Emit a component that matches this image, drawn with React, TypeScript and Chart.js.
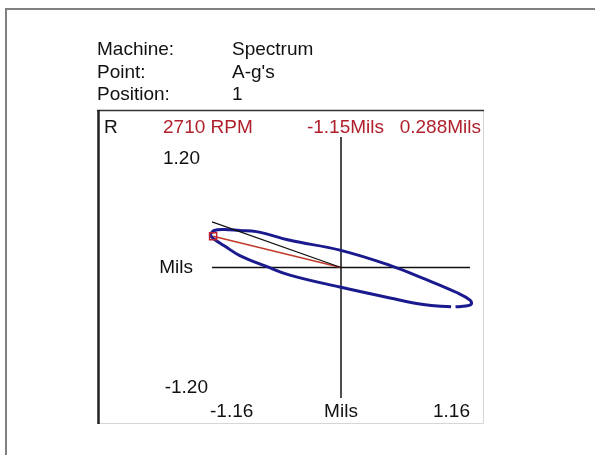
import React, { useEffect, useRef } from 'react';
import { Chart, registerables } from 'chart.js';

Chart.register(...registerables);

// Orbit trace (Mils) (null = small break in the trace)
const orbitX = [-1.18, -1.14, -1.05, -0.91, -0.76, -0.46, -0.01, 0.44, 0.74, 1.04, 1.16, 1.17, 1.06, 1.03, 1.01, 0.99, 0.74, 0.44, -0.01, -0.46, -0.67, -0.91, -1.05, -1.14, -1.18];
const orbitY = [0.30, 0.34, 0.35, 0.34, 0.33, 0.25, 0.16, 0.02, -0.10, -0.23, -0.30, -0.34, -0.36, -0.362, null, -0.362, -0.34, -0.28, -0.18, -0.07, 0.01, 0.11, 0.20, 0.26, 0.30];

// Current point (red) and reference line (black)
const markerX = [-1.15, 0];
const markerY = [0.288, 0];
const refLineX = [-1.16, 0];
const refLineY = [0.42, 0];

// Axis ranges and labels
const xRange = [-1.16, 1.16];
const yRange = [-1.2, 1.2];
const xTickLabels = ['-1.16', 'Mils', '1.16'];
const yTickLabels = ['1.20', 'Mils', '-1.20'];

const headerLabels = ['Machine:', 'Point:', 'Position:'];
const headerValues = ['Spectrum', 'A-g\'s', '1'];
const rpmText = '2710 RPM';
const readoutX = '-1.15Mils';
const readoutY = '0.288Mils';
const cornerLabel = 'R';

const toPts = (xs: number[], ys: (number | null)[]) => xs.map((x, i) => ({ x, y: ys[i] }));

const FONT = '19px "Liberation Sans", Arial, sans-serif';
const RED = '#b0202c';

const decorPlugin = {
  id: 'decor',
  beforeDraw(chart: any) {
    const ctx = chart.ctx;
    ctx.save();
    ctx.fillStyle = '#ffffff';
    ctx.fillRect(0, 0, chart.width, chart.height);
    ctx.restore();
  },
  afterDraw(chart: any) {
    const ctx = chart.ctx;
    ctx.save();
    // outer frame
    ctx.strokeStyle = '#808080';
    ctx.lineWidth = 2;
    ctx.beginPath();
    ctx.moveTo(6, 455);
    ctx.lineTo(6, 9);
    ctx.lineTo(595, 9);
    ctx.stroke();

    // inner box
    ctx.strokeStyle = '#d6d6d6';
    ctx.lineWidth = 1;
    ctx.beginPath();
    ctx.moveTo(97, 423.5);
    ctx.lineTo(483.5, 423.5);
    ctx.lineTo(483.5, 110);
    ctx.stroke();
    ctx.strokeStyle = '#333333';
    ctx.lineWidth = 1.5;
    ctx.beginPath();
    ctx.moveTo(97, 110.5);
    ctx.lineTo(484, 110.5);
    ctx.stroke();
    ctx.strokeStyle = '#222222';
    ctx.lineWidth = 2.5;
    ctx.beginPath();
    ctx.moveTo(98.5, 110);
    ctx.lineTo(98.5, 424);
    ctx.stroke();

    ctx.font = FONT;
    ctx.textBaseline = 'middle';
    ctx.fillStyle = '#111111';
    const rows = [50, 72.5, 95];
    headerLabels.forEach((t, i) => {
      ctx.textAlign = 'left';
      ctx.fillText(t, 97, rows[i]);
      ctx.fillText(headerValues[i], 232, rows[i]);
    });

    ctx.textAlign = 'left';
    ctx.fillText(cornerLabel, 104, 128);
    ctx.fillStyle = RED;
    ctx.fillText(rpmText, 163, 128);
    ctx.textAlign = 'right';
    ctx.fillText(readoutY, 481, 128);
    ctx.fillText(readoutX, 384, 128);

    const xs = chart.scales.x;
    const ys = chart.scales.y;
    ctx.fillStyle = '#111111';
    // y labels
    ctx.textAlign = 'right';
    ctx.fillText(yTickLabels[0], 200, 159);
    ctx.fillText(yTickLabels[1], 193, ys.getPixelForValue(0));
    ctx.fillText(yTickLabels[2], 208, 388);
    // x labels
    ctx.textAlign = 'left';
    ctx.fillText(xTickLabels[0], 210, 412);
    ctx.textAlign = 'center';
    ctx.fillText(xTickLabels[1], xs.getPixelForValue(0), 412);
    ctx.textAlign = 'right';
    ctx.fillText(xTickLabels[2], xs.getPixelForValue(xRange[1]), 412);
    ctx.restore();
  },
};

export default function App() {
  const ref = useRef<HTMLCanvasElement | null>(null);
  useEffect(() => {
    if (!ref.current) return;
    const chart = new Chart(ref.current, {
      type: 'scatter',
      data: {
        datasets: [
          {
            label: 'ref',
            data: toPts(refLineX, refLineY),
            showLine: true,
            clip: false,
            borderColor: '#111111',
            borderWidth: 1.2,
            pointRadius: 0,
            order: 0,
          },
          {
            label: 'point',
            data: toPts(markerX, markerY),
            showLine: true,
            clip: false,
            borderColor: '#c0392b',
            borderWidth: 1.5,
            pointStyle: 'rect',
            pointRadius: [5, 0],
            pointBorderColor: '#c02030',
            pointBackgroundColor: 'rgba(255,255,255,0)',
            pointBorderWidth: 1.5,
            order: 0,
          },
          {
            label: 'orbit',
            data: toPts(orbitX, orbitY),
            showLine: true,
            clip: false,
            spanGaps: false,
            borderColor: '#1a1a8e',
            borderWidth: 3,
            tension: 0.4,
            pointRadius: 0,
            order: 1,
          },
          {
            label: 'hAxis',
            data: toPts(xRange, [0, 0]),
            showLine: true,
            borderColor: '#111111',
            borderWidth: 1.5,
            pointRadius: 0,
            order: 3,
          },
          {
            label: 'vAxis',
            data: toPts([0, 0], yRange),
            showLine: true,
            borderColor: '#111111',
            borderWidth: 1.5,
            pointRadius: 0,
            order: 3,
          },
        ],
      },
      options: {
        animation: false,
        responsive: false,
        devicePixelRatio: 1,
        layout: { padding: { left: 212, top: 137, right: 125, bottom: 57 } },
        plugins: { legend: { display: false }, tooltip: { enabled: false } },
        scales: {
          x: { type: 'linear', min: xRange[0], max: xRange[1], display: false },
          y: { type: 'linear', min: yRange[0], max: yRange[1], display: false },
        },
      },
      plugins: [decorPlugin],
    });
    return () => chart.destroy();
  }, []);
  return (
    <div style={{ position: 'fixed', left: 0, top: 0, width: 595, height: 455, background: '#fff' }}>
      <canvas ref={ref} width={595} height={455} style={{ display: 'block' }} />
    </div>
  );
}
